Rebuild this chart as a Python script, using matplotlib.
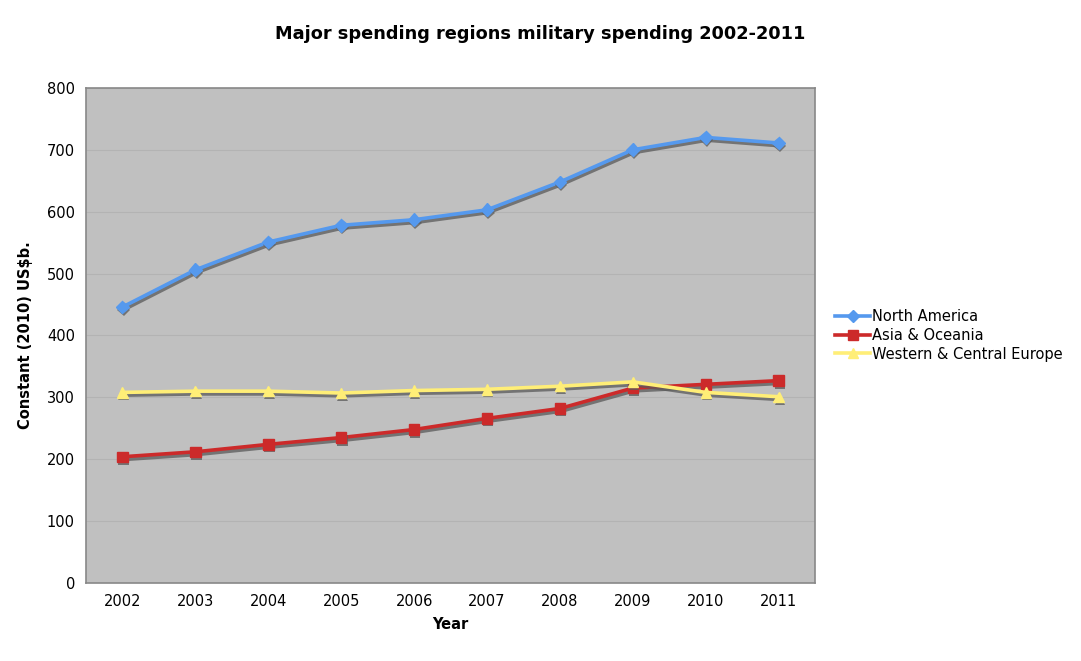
import matplotlib
matplotlib.use("Agg")
import matplotlib.pyplot as plt
import matplotlib.patheffects as pe
from matplotlib.lines import Line2D

# datos
years = ["2002", "2003", "2004", "2005", "2006", "2007", "2008", "2009", "2010", "2011"]
north_america = [446, 506, 551, 578, 587, 603, 648, 700, 720, 711]
asia_oceania = [204, 212, 224, 235, 248, 266, 282, 315, 321, 327]
western_europe = [308, 310, 310, 307, 311, 313, 318, 325, 308, 301]

series = [
    ("North America", north_america, "#5599ee", "D", 6.5),
    ("Asia & Oceania", asia_oceania, "#cc2a2a", "s", 7.5),
    ("Western & Central Europe", western_europe, "#ffee77", "^", 7.5),
]

plt.rcParams['font.family'] = ['DejaVu Sans']

fig = plt.figure(figsize=(10.81, 6.61), dpi=100)
ax = fig.add_axes([0.0796, 0.118, 0.6744, 0.749])
ax.set_facecolor("#c0c0c0")

x = list(range(len(years)))
sombra_linea = [pe.SimpleLineShadow(offset=(0.8, -2), shadow_color="#5a5a5a", alpha=0.75), pe.Normal()]
sombra_marca = [pe.SimplePatchShadow(offset=(0.8, -2), shadow_rgbFace="#5a5a5a", alpha=0.75), pe.Normal()]

handles = []
for nombre, valores, color, marca, tam in series:
    ax.plot(x, valores, color=color, lw=2.6, path_effects=sombra_linea)
    ax.plot(x, valores, ls="none", marker=marca, ms=tam, color=color,
            markeredgecolor=color, path_effects=sombra_marca)
    handles.append(Line2D([], [], color=color, lw=2.6, marker=marca, ms=tam,
                          markeredgecolor=color, label=nombre))

ax.set_xlim(-0.5, 9.5)
ax.set_ylim(0, 800)
ax.set_yticks(range(0, 801, 100))
ax.set_xticks(x)
ax.set_xticklabels(years)
ax.yaxis.grid(True, color="#b3b3b3", lw=0.8)
ax.set_axisbelow(True)
ax.tick_params(axis="both", labelsize=10.5, length=0, pad=8)
for s in ax.spines.values():
    s.set_color("#888888")
    s.set_linewidth(1.2)

ax.set_xlabel("Year", fontsize=10.5, fontweight="bold", labelpad=6)
ax.set_ylabel("Constant (2010) US$b.", fontsize=10.5, fontweight="bold", labelpad=10)
fig.suptitle("Major spending regions military spending 2002-2011", fontsize=12.8,
             fontweight="bold", x=0.5, y=0.962)

ax.legend(handles=handles, loc="center left", bbox_to_anchor=(1.01, 0.5), frameon=False,
          fontsize=10.5, handlelength=2.4, handletextpad=0.1, labelspacing=0.25)

plt.savefig("out.png", dpi=100)
